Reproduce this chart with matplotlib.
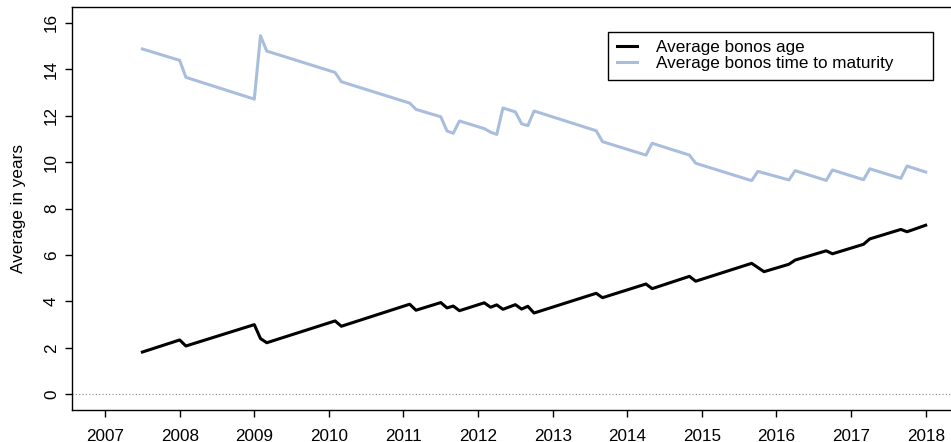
import matplotlib
matplotlib.use("Agg")
import matplotlib.pyplot as plt
from matplotlib.lines import Line2D

plt.rcParams['font.family'] = ['Liberation Sans', 'DejaVu Sans']

# ---- data (decimal years, values in years) ----
age_x = [2007.500, 2008.000, 2008.083, 2009.000, 2009.083, 2009.167, 2010.083, 2010.167,
         2011.083, 2011.167, 2011.500, 2011.583, 2011.667, 2011.750, 2012.083, 2012.167,
         2012.250, 2012.333, 2012.500, 2012.583, 2012.667, 2012.750, 2013.583, 2013.667,
         2014.250, 2014.333, 2014.833, 2014.917, 2015.667, 2015.833, 2016.167, 2016.250,
         2016.667, 2016.750, 2017.167, 2017.250, 2017.667, 2017.750, 2018.000]
age_y = [1.82, 2.34, 2.08, 3.00, 2.40, 2.22, 3.16, 2.93,
         3.88, 3.62, 3.95, 3.72, 3.80, 3.60, 3.94, 3.75,
         3.85, 3.66, 3.86, 3.67, 3.79, 3.50, 4.35, 4.16,
         4.75, 4.55, 5.08, 4.87, 5.64, 5.28, 5.60, 5.78,
         6.18, 6.05, 6.46, 6.69, 7.10, 7.00, 7.28]

ttm_x = [2007.500, 2008.000, 2008.083, 2009.000, 2009.083, 2009.167, 2010.083, 2010.167,
         2011.083, 2011.167, 2011.500, 2011.583, 2011.667, 2011.750, 2012.083, 2012.167,
         2012.250, 2012.333, 2012.500, 2012.583, 2012.667, 2012.750, 2013.583, 2013.667,
         2014.250, 2014.333, 2014.833, 2014.917, 2015.667, 2015.750, 2016.167, 2016.250,
         2016.667, 2016.750, 2017.167, 2017.250, 2017.667, 2017.750, 2018.000]
ttm_y = [14.87, 14.38, 13.65, 12.71, 15.44, 14.78, 13.86, 13.46,
         12.54, 12.27, 11.95, 11.34, 11.24, 11.77, 11.44, 11.29,
         11.19, 12.33, 12.16, 11.65, 11.57, 12.20, 11.35, 10.88,
         10.30, 10.81, 10.30, 9.95, 9.20, 9.60, 9.23, 9.63,
         9.21, 9.66, 9.24, 9.71, 9.30, 9.83, 9.57]

series_labels = ["Average bonos age", "Average bonos time to maturity"]
series_colors = ["#000000", "#A9BEDC"]
x_ticks = list(range(2007, 2019))
y_ticks = list(range(0, 17, 2))

FS = 12.3
fig = plt.figure(figsize=(9.51, 4.42), dpi=100)
ax = fig.add_axes([0.0760, 0.0724, 0.9319, 0.9124])

ax.axhline(0, color='#888888', linestyle=(0, (1, 2)), lw=0.8, zorder=1)
ax.plot(age_x, age_y, color=series_colors[0], lw=2.2, solid_joinstyle='round', zorder=3)
ax.plot(ttm_x, ttm_y, color=series_colors[1], lw=2.2, solid_joinstyle='round', zorder=2)

ax.set_xlim(2006.56, 2018.44)
ax.set_ylim(-0.676, 16.69)
ax.set_xticks(x_ticks)
ax.set_xticklabels([str(v) for v in x_ticks], fontsize=FS)
ax.set_yticks(y_ticks)
ax.set_yticklabels([str(v) for v in y_ticks], fontsize=FS, rotation=90, va='center')
ax.tick_params(axis='both', direction='out', length=5, width=1.0, color='black')
ax.tick_params(axis='x', pad=8.5)
ax.tick_params(axis='y', pad=4.5)
for s in ax.spines.values():
    s.set_linewidth(1.0)
    s.set_color('black')

ax.set_ylabel("Average in years", fontsize=FS, labelpad=13)

handles = [Line2D([], [], color=c, lw=2.2) for c in series_colors]
leg = ax.legend(handles, series_labels, loc='upper left',
                bbox_to_anchor=(0.6048, 0.938, 0.3661, 0), mode='expand',
                borderaxespad=0, fancybox=False, edgecolor='black', framealpha=1,
                fontsize=FS, handlelength=1.17, handletextpad=1.16,
                labelspacing=0.07, borderpad=0.49)
leg.get_frame().set_linewidth(1.0)

fig.savefig("out.png", dpi=100)
